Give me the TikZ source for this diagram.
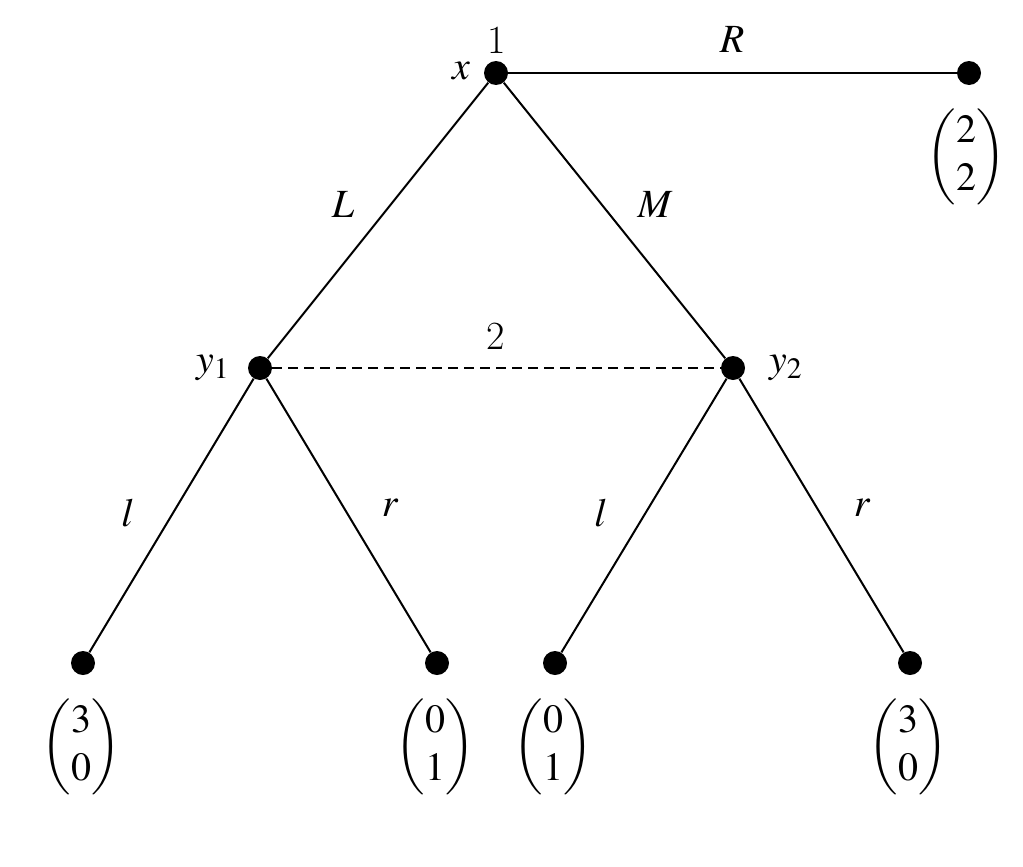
\documentclass[tikz,border=0pt]{standalone}
\usepackage{mathptmx}
\usepackage{amsmath}
\begin{document}
\begin{tikzpicture}[x=0.5pt,y=-0.5pt,
  dot/.style={circle,fill=black,inner sep=0pt,minimum size=12pt},
  lab/.style={font=\fontsize{20}{24}\selectfont},
  edge/.style={line width=1pt}]
\useasboundingbox (0,0) rectangle (1023,867);
\node[dot] (x) at (496,73) {};
\node[dot] (rt) at (969,73) {};
\node[dot] (y1) at (260,368) {};
\node[dot] (y2) at (733,368) {};
\node[dot] (a) at (83,663) {};
\node[dot] (b) at (437,663) {};
\node[dot] (c) at (555,663) {};
\node[dot] (d) at (910,663) {};
\draw[edge] (x)--(rt);
\draw[edge] (x)--(y1);
\draw[edge] (x)--(y2);
\draw[edge,dashed,dash pattern=on 5pt off 3pt] (y1)--(y2);
\draw[edge] (y1)--(a);
\draw[edge] (y1)--(b);
\draw[edge] (y2)--(c);
\draw[edge] (y2)--(d);
\node[lab] (n1) at (497,40) {1};
\node[lab] (nx) at (461,71) {$x$};
\node[lab] (nR) at (732,40) {$R$};
\node[lab] (vr) at (966,157) {$\begin{pmatrix}2\\2\end{pmatrix}$};
\node[lab] (nL) at (343,205) {$L$};
\node[lab] (nM) at (655,205) {$M$};
\node[lab] (n2) at (496,336) {2};
\node[lab] (ny1) at (213,368) {$y_1$};
\node[lab] (ny2) at (786,368) {$y_2$};
\node[lab] (l1) at (128,513) {$l$};
\node[lab] (r1) at (390,508) {$r$};
\node[lab] (l2) at (601,513) {$l$};
\node[lab] (r2) at (862,508) {$r$};
\node[lab] (va) at (81,747) {$\begin{pmatrix}3\\0\end{pmatrix}$};
\node[lab] (vb) at (435,747) {$\begin{pmatrix}0\\1\end{pmatrix}$};
\node[lab] (vc) at (553,747) {$\begin{pmatrix}0\\1\end{pmatrix}$};
\node[lab] (vd) at (908,747) {$\begin{pmatrix}3\\0\end{pmatrix}$};
\end{tikzpicture}
\end{document}
